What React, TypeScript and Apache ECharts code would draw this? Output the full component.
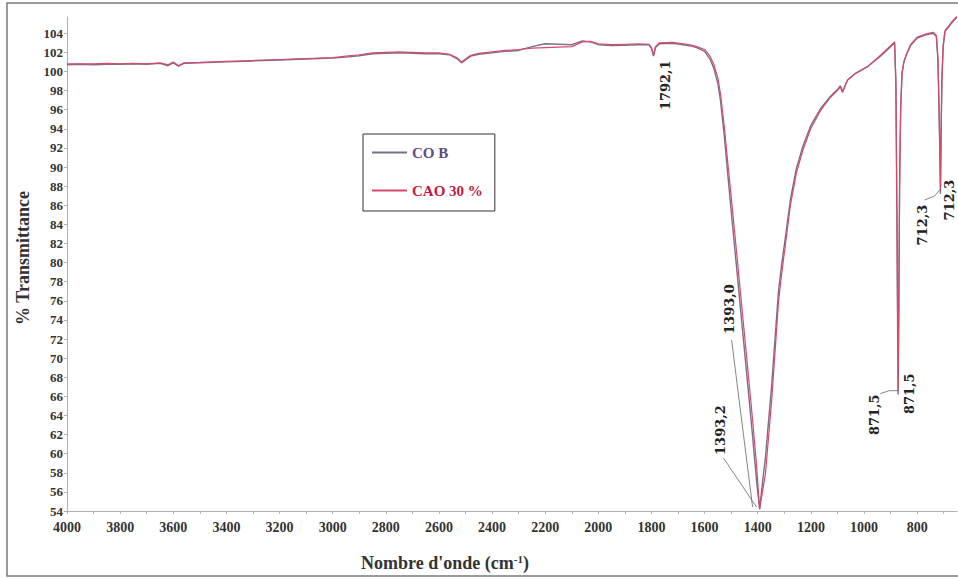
import React, { useEffect, useRef } from "react";
import * as echarts from "echarts";

// Wavenumbers (cm-1), descending
const wavenumbers = [
  4000, 3950, 3900, 3850, 3800, 3750, 3700, 3650, 3620, 3600, 3580, 3560, 3500, 3400, 3300, 3200,
  3100, 3000, 2950, 2900, 2850, 2800, 2750, 2700, 2650, 2600, 2560, 2530, 2515, 2500, 2480, 2450,
  2400, 2350, 2300, 2250, 2200, 2150, 2100, 2060, 2030, 2000, 1950, 1900, 1850, 1810, 1800, 1792.1,
  1785, 1770, 1720, 1680, 1650, 1630, 1600, 1580, 1566, 1550, 1540, 1525, 1514, 1500, 1480, 1460,
  1440, 1420, 1405, 1393, 1380, 1371, 1360, 1348, 1335, 1322, 1310, 1299, 1277, 1255, 1231, 1201,
  1164, 1126, 1100, 1089, 1081, 1062, 1032, 987, 938, 900, 885, 880, 876, 873, 871.5, 869,
  866, 862, 857, 850, 840, 825, 800, 770, 740, 728, 722, 718, 715, 712.3, 710, 707,
  702, 695, 686, 672, 660, 650,
];

// % Transmittance, CAO 30 %
const cao30 = [
  100.8, 100.8, 100.8, 100.85, 100.8, 100.85, 100.8, 100.9, 100.7, 101.0, 100.6, 100.9, 100.95, 101.05, 101.15, 101.25,
  101.35, 101.45, 101.6, 101.75, 101.95, 102.0, 102.05, 102.0, 101.95, 101.95, 101.8, 101.4, 101.0, 101.3, 101.7, 101.9,
  102.05, 102.2, 102.3, 102.45, 102.5, 102.55, 102.6, 103.1, 103.15, 102.9, 102.8, 102.85, 102.9, 102.85, 102.5, 101.7,
  102.6, 103.0, 103.05, 102.9, 102.75, 102.6, 102.3, 101.6, 100.8, 99.3, 97.6, 94.0, 90.8, 86.9, 81.2, 75.4,
  69.6, 63.7, 59.0, 54.2, 56.4, 57.9, 61.5, 65.4, 70.6, 75.9, 78.8, 81.2, 86.0, 89.3, 91.7, 94.0,
  95.9, 97.3, 98.0, 98.4, 97.8, 99.1, 99.8, 100.5, 101.7, 102.7, 103.1, 99.0, 85.0, 72.0, 66.8, 75.0,
  88.0, 96.0, 99.8, 101.0, 101.8, 102.8, 103.6, 103.9, 104.1, 103.8, 101.5, 97.0, 92.5, 87.8, 93.0, 99.0,
  102.8, 104.3, 104.6, 105.1, 105.5, 105.8,
];

// % Transmittance, CO B
const cob = [
  100.7, 100.75, 100.7, 100.75, 100.75, 100.8, 100.75, 100.85, 100.6, 100.9, 100.55, 100.85, 100.9, 101.0, 101.1, 101.2,
  101.3, 101.4, 101.5, 101.65, 101.85, 101.9, 101.95, 101.9, 101.85, 101.85, 101.75, 101.3, 100.9, 101.2, 101.6, 101.8,
  101.95, 102.1, 102.2, 102.6, 102.9, 102.85, 102.8, 103.2, 103.1, 102.8, 102.7, 102.75, 102.8, 102.8, 102.4, 101.6,
  102.5, 102.9, 102.95, 102.8, 102.65, 102.5, 102.1, 101.3, 100.4, 98.7, 96.9, 93.0, 89.6, 85.4, 79.6, 73.7,
  67.9, 62.0, 57.3, 54.2, 57.5, 59.6, 63.2, 67.0, 72.0, 77.0, 79.8, 82.0, 86.6, 89.8, 92.1, 94.3,
  96.1, 97.4, 98.1, 98.5, 97.9, 99.1, 99.8, 100.5, 101.6, 102.6, 103.0, 98.5, 84.0, 71.0, 66.2, 75.5,
  88.5, 96.3, 99.8, 101.0, 101.8, 102.7, 103.5, 103.8, 104.0, 103.7, 101.3, 96.5, 92.0, 87.2, 93.0, 99.0,
  102.6, 104.2, 104.5, 105.0, 105.4, 105.7,
];

const xTickLabels = [4000, 3800, 3600, 3400, 3200, 3000, 2800, 2600, 2400, 2200, 2000, 1800, 1600, 1400, 1200, 1000, 800];
const yTickLabels = [54, 56, 58, 60, 62, 64, 66, 68, 70, 72, 74, 76, 78, 80, 82, 84, 86, 88, 90, 92, 94, 96, 98, 100, 102, 104];

const peakWavenumbers = [1792.1, 1393.0, 1393.2, 871.5, 871.5, 712.3, 712.3];
const peakTransmittance = [101.7, 54.2, 54.2, 66.8, 66.8, 87.8, 87.8];
const peakLabels = ["1792,1", "1393,0", "1393,2", "871,5", "871,5", "712,3", "712,3"];

const seriesNames = ["CO B", "CAO 30 %"];

const SERIF = "'Liberation Serif', 'Times New Roman', serif";
const ANN_FONT = "'DejaVu Serif', 'Liberation Serif', serif";

export default function App() {
  const ref = useRef<HTMLDivElement>(null);

  useEffect(() => {
    if (!ref.current) return;
    const chart = echarts.init(ref.current, null, { renderer: "svg" });

    const xTickMarks: number[] = [];
    for (let v = 4000; v >= 700; v -= 100) xTickMarks.push(v);

    const option: any = {
      animation: false,
      backgroundColor: "#ffffff",
      grid: {
        left: 67,
        right: 1,
        top: 17,
        bottom: 68,
        containLabel: false,
        outerBoundsMode: "none",
      },
      legend: {
        orient: "vertical",
        left: 363,
        top: 134,
        icon: "rect",
        itemWidth: 35,
        itemHeight: 2,
        itemGap: 23,
        itemTextGap: 3,
        padding: [11, 12, 13, 9],
        borderColor: "#333",
        borderWidth: 1,
        textStyle: { fontFamily: SERIF, fontWeight: "bold", fontSize: 15 },
        data: [
          { name: seriesNames[0], textStyle: { color: "#5e4b85" } },
          { name: seriesNames[1], textStyle: { color: "#c4183f" } },
        ],
      },
      xAxis: {
        type: "value",
        inverse: true,
        min: 650,
        max: 4000,
        splitLine: { show: false },
        axisLine: { show: true, lineStyle: { color: "#b0b0b0", width: 1 } },
        axisTick: { show: true, length: 3, customValues: xTickMarks, lineStyle: { color: "#b0b0b0" } },
        axisLabel: {
          customValues: xTickLabels,
          formatter: (v: number) => String(v),
          margin: 9,
          color: "#333",
          fontFamily: SERIF,
          fontWeight: "bold",
          fontSize: 14,
        },
      },
      yAxis: {
        type: "value",
        min: 54,
        max: 105.7,
        splitLine: { show: false },
        axisLine: { show: true, lineStyle: { color: "#b0b0b0", width: 1 } },
        axisTick: { show: true, length: 3, customValues: yTickLabels, lineStyle: { color: "#b0b0b0" } },
        axisLabel: {
          customValues: yTickLabels,
          formatter: (v: number) => String(v),
          margin: 4,
          color: "#333",
          fontFamily: SERIF,
          fontWeight: "bold",
          fontSize: 13,
        },
      },
      series: [
        {
          name: seriesNames[0],
          type: "line",
          symbol: "none",
          color: "#7a6e88",
          lineStyle: { width: 1.4, color: "#7a6e88" },
          data: wavenumbers.map((w, i) => [w, cob[i]]),
          z: 2,
        },
        {
          name: seriesNames[1],
          type: "line",
          symbol: "none",
          color: "#d64a6a",
          lineStyle: { width: 1.2, color: "#d64a6a" },
          data: wavenumbers.map((w, i) => [w, cao30[i]]),
          z: 3,
        },
      ],
    };
    chart.setOption(option);

    // Annotations anchored on the peaks
    const offsets = [
      { dx: 12, dy: 30 },
      { dx: -30, dy: -200 },
      { dx: -39, dy: -79 },
      { dx: 11, dy: 5 },
      { dx: -24, dy: 26 },
      { dx: 9, dy: 12 },
      { dx: -18, dy: 37 },
    ];
    const leaders: (number[][] | null)[] = [
      null,
      [[-28, -169], [-7, -2]],
      [[-36, -51], [-3, -2]],
      null,
      [[0, 0], [0, 2], [-9, 2], [-18, 5]],
      null,
      [[0, 1], [-6, 8], [-16, 12]],
    ];
    const graphics: any[] = [];
    peakWavenumbers.forEach((w, i) => {
      const p = chart.convertToPixel({ gridIndex: 0 } as any, [w, peakTransmittance[i]]) as number[];
      if (!p) return;
      const o = offsets[i];
      graphics.push({
        type: "text",
        x: p[0] + o.dx,
        y: p[1] + o.dy,
        rotation: Math.PI / 2,
        style: {
          text: peakLabels[i],
          fill: "#222",
          font: `bold 13px ${ANN_FONT}`,
          align: "center",
          verticalAlign: "middle",
        },
        z: 10,
      });
      const l = leaders[i];
      if (l) {
        graphics.push({
          type: "polyline",
          shape: { points: l.map((q) => [p[0] + q[0], p[1] + q[1]]) },
          style: { stroke: "#666", lineWidth: 0.8, fill: null },
          z: 9,
        });
      }
    });

    graphics.push({
      type: "rect",
      shape: { x: 7, y: 3, width: 960, height: 573 },
      style: { fill: null, stroke: "#7a7a7a", lineWidth: 1.5 },
      z: 20,
    });
    graphics.push({
      type: "text",
      x: 23,
      y: 258,
      rotation: Math.PI / 2,
      style: {
        text: "% Transmittance",
        fill: "#333",
        font: `bold 18px ${SERIF}`,
        align: "center",
        verticalAlign: "middle",
      },
    });
    graphics.push({
      type: "text",
      x: 445,
      y: 563,
      style: {
        text: "Nombre d'onde (cm{sup|-1})",
        fill: "#333",
        font: `bold 18px ${SERIF}`,
        fontFamily: SERIF,
        fontWeight: "bold",
        fontSize: 18,
        align: "center",
        verticalAlign: "middle",
        rich: {
          sup: {
            fontFamily: SERIF,
            fontWeight: "bold",
            fontSize: 11,
            verticalAlign: "top",
            fill: "#333",
            padding: [0, 0, 8, 0],
          },
        },
      },
    });

    chart.setOption({ graphic: graphics });

    return () => chart.dispose();
  }, []);

  return <div ref={ref} style={{ width: 958, height: 579, position: "absolute", left: 0, top: 0 }} />;
}
